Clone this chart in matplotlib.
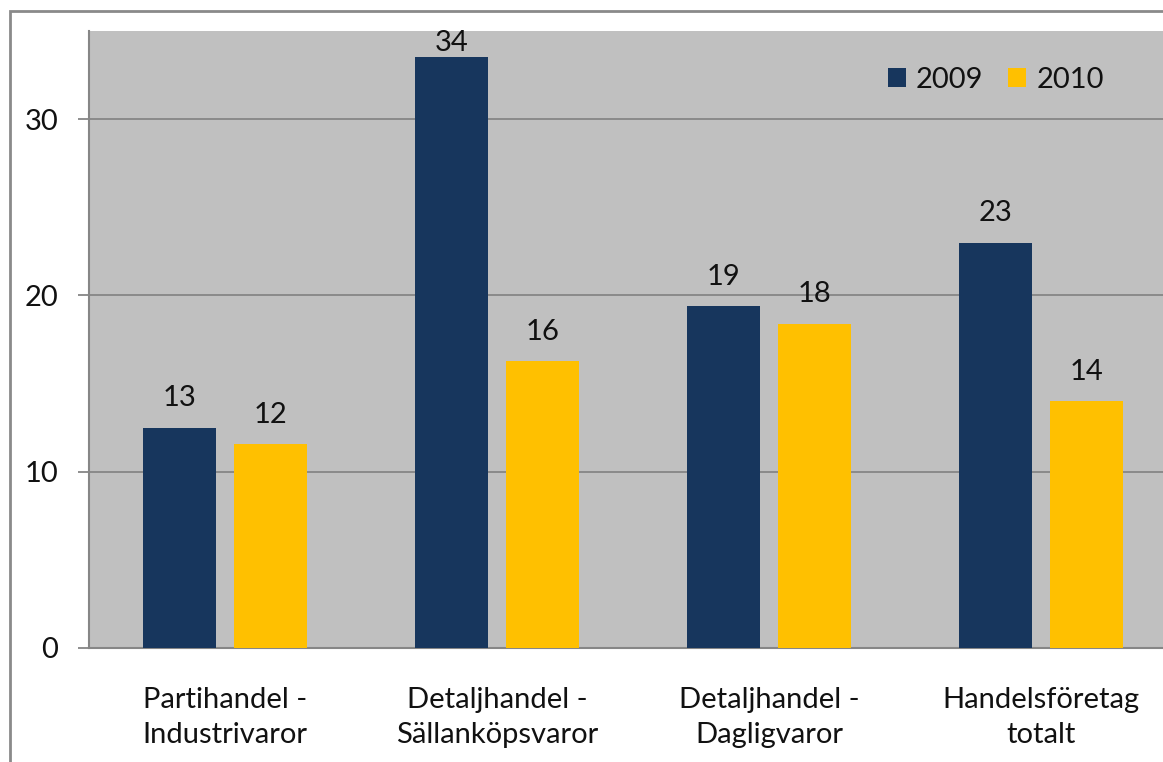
import matplotlib

matplotlib.use("Agg")
import matplotlib.pyplot as plt
from matplotlib.patches import Rectangle
import numpy as np

categories = [
    "Partihandel -\nIndustrivaror",
    "Detaljhandel -\nSällanköpsvaror",
    "Detaljhandel -\nDagligvaror",
    "Handelsföretag\ntotalt",
]
values_2009 = [12.5, 33.5, 19.4, 23.0]
values_2010 = [11.55, 16.3, 18.4, 14.0]
labels_2009 = ["13", "34", "19", "23"]
labels_2010 = ["12", "16", "18", "14"]
y_ticks = [0, 10, 20, 30]

NAVY = "#17365D"
GOLD = "#FFC000"
PLOT_BG = "#C0C0C0"
GRID = "#868686"
TEXT = "#111111"
FS = 21

plt.rcParams["font.family"] = ["Lato", "DejaVu Sans"]

W, H = 1163, 762
fig = plt.figure(figsize=(W / 100, H / 100), dpi=100)
fig.patch.set_facecolor("white")

# plot area runs past the right edge of the picture (cropped original)
left, right, top, bottom = 89, 1177, 31, 648
ax = fig.add_axes([left / W, 1 - bottom / H, (right - left) / W, (bottom - top) / H])
ax.set_facecolor(PLOT_BG)

x = np.arange(len(categories))
width = 0.268
offset = 0.167
bars_2009 = ax.bar(x - offset, values_2009, width, color=NAVY, label="2009", zorder=3)
bars_2010 = ax.bar(x + offset, values_2010, width, color=GOLD, label="2010", zorder=3)

ax.set_xlim(-0.5, len(categories) - 0.5)
ax.set_ylim(0, 35)

for bars, labels in ((bars_2009, labels_2009), (bars_2010, labels_2010)):
    for bar, text in zip(bars, labels):
        y = min(bar.get_height() + 1.2, 33.85)
        ax.text(
            bar.get_x() + bar.get_width() / 2,
            y,
            text,
            ha="center",
            va="baseline",
            fontsize=FS,
            color=TEXT,
            zorder=4,
        )

ax.set_yticks(y_ticks)
ax.yaxis.grid(True, color=GRID, linewidth=1.3, zorder=1)
ax.set_axisbelow(True)
ax.tick_params(axis="y", length=8, width=1.3, color=GRID, pad=14, labelsize=FS, labelcolor=TEXT)
ax.set_xticks(x)
ax.set_xticklabels(categories, fontsize=FS, color=TEXT, linespacing=1.45)
ax.tick_params(axis="x", length=0, pad=28)

for side in ("top", "right"):
    ax.spines[side].set_visible(False)
for side in ("left", "bottom"):
    ax.spines[side].set_color(GRID)
    ax.spines[side].set_linewidth(1.5)

ax.legend(
    loc="center left",
    bbox_to_anchor=(0.71, 0.921),
    ncol=2,
    frameon=False,
    fontsize=FS,
    handlelength=0.62,
    handleheight=0.62,
    handletextpad=0.35,
    columnspacing=0.85,
    labelcolor=TEXT,
)

# outer chart border, cropped at right and bottom
fig.patches.append(
    Rectangle(
        (10 / W, -0.1),
        1.2,
        1.1 - 11 / H,
        transform=fig.transFigure,
        fill=False,
        edgecolor="#8a8a8a",
        linewidth=2,
    )
)

fig.savefig("out.png", dpi=100)
